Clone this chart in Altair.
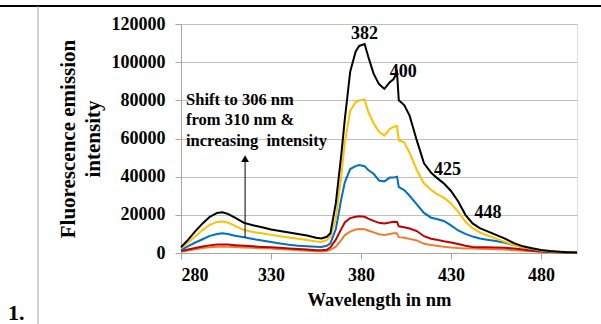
import altair as alt
import pandas as pd

# Emission wavelengths (nm)
wavelength = [280, 284, 288, 292, 296, 300, 303, 306, 310, 315,
              320, 325, 330, 335, 340, 345, 350, 355, 358, 361,
              363, 366, 369, 371, 374, 377, 379, 382, 384, 387,
              390, 393, 396, 398, 400, 401, 404, 407, 411, 415,
              419, 422, 426, 430, 434, 438, 442, 446, 450, 455,
              460, 465, 470, 475, 480, 485, 490, 495, 500]

# Fluorescence emission intensity of the five spectra
s_black = [3000, 7000, 11500, 15500, 19000, 21000, 21300, 20500, 18500, 15800,
           14500, 13500, 12300, 11500, 10700, 10000, 9200, 8000, 7600, 8500,
           10300, 26000, 51000, 70000, 95000, 105500, 108500, 109500, 103000, 94000,
           88500, 86000, 89500, 91000, 94500, 80000, 77500, 72000, 59000, 47000,
           42000, 39500, 36500, 32500, 27000, 20000, 15500, 13000, 11500, 9500,
           7500, 5200, 3500, 2500, 1600, 1000, 700, 400, 200]
s_yellow = [2500, 5500, 8800, 12000, 14800, 16300, 16500, 16000, 14200, 12000,
            11000, 10300, 9500, 8800, 8100, 7500, 6800, 6000, 5800, 6800,
            8500, 18000, 40000, 58000, 74500, 79000, 80000, 80500, 74000, 68000,
            63500, 61500, 65000, 66000, 66500, 59000, 58000, 52500, 43500, 36500,
            33000, 31000, 29000, 26000, 21500, 16500, 13000, 10800, 9300, 7500,
            5800, 4200, 3000, 2200, 1300, 900, 600, 400, 200]
s_blue = [1500, 3600, 5500, 7200, 9000, 10000, 10300, 10000, 9000, 8200,
          7300, 6500, 5800, 5000, 4300, 3800, 3500, 3300, 3200, 3800,
          5100, 12500, 28000, 37000, 44000, 45500, 46100, 45500, 43500, 41500,
          38000, 37500, 39500, 39500, 40000, 34500, 33000, 30000, 25500, 21000,
          18500, 17800, 16800, 14500, 11800, 10000, 8600, 7600, 7000, 6300,
          5300, 4200, 3000, 2000, 1200, 800, 500, 300, 200]
s_red = [1000, 1800, 2600, 3400, 4000, 4400, 4500, 4400, 4100, 3800,
         3500, 3200, 3000, 2700, 2400, 2100, 1800, 1500, 1400, 1700,
         3000, 7000, 12500, 16000, 18300, 19000, 19200, 19000, 18000, 16800,
         15800, 15500, 16000, 16400, 16300, 14000, 13500, 12800, 11500, 8800,
         7500, 7000, 6200, 5500, 4700, 3800, 3200, 3000, 3000, 2900,
         2700, 2400, 1800, 1200, 800, 500, 400, 300, 150]
s_orange = [700, 1300, 2000, 2600, 3000, 3300, 3400, 3300, 3100, 2900,
            2700, 2500, 2300, 2000, 1800, 1500, 1200, 900, 800, 1000,
            1600, 3300, 6800, 9400, 11200, 12300, 12600, 12400, 11800, 10800,
            9800, 9400, 10000, 10300, 10300, 8300, 8000, 7400, 6600, 4800,
            4200, 3800, 3300, 2900, 2600, 2400, 2300, 2200, 2100, 2000,
            1800, 1500, 1200, 900, 600, 400, 300, 200, 100]

series_names = ["orange", "red", "blue", "yellow", "black"]
series_values = [s_orange, s_red, s_blue, s_yellow, s_black]
series_colors = ["#ED7D31", "#C00000", "#0070C0", "#FFC000", "#000000"]

# Peak labels
peak_labels = ["382", "400", "425", "448"]
peak_x = [382, 403.5, 428, 450.5]
peak_y = [114800, 95000, 43300, 21000]

# Note text and the arrow pointing up
note_lines = ["Shift to 306 nm", "from 310 nm &", "increasing\u00a0 intensity"]
note_x = [282.8, 282.8, 282.8]
note_y = [80100, 69500, 58800]
arrow_x = 315.6
arrow_y_from = 8000
arrow_y_to = 49500

x_ticks = [280, 330, 380, 430, 480]
y_ticks = [0, 20000, 40000, 60000, 80000, 100000, 120000]

FONT = "Liberation Serif"

rows = []
for order, (name, vals) in enumerate(zip(series_names, series_values)):
    for w, v in zip(wavelength, vals):
        rows.append({"series": name, "order": order, "wl": w, "intensity": v})
df = pd.DataFrame(rows)

x_scale = alt.Scale(domain=[280, 500], nice=False, zero=False)
y_scale = alt.Scale(domain=[0, 120000], nice=False)

x_axis = alt.Axis(title="Wavelength in nm", values=x_ticks, grid=False,
                  labelOverlap=False,
                  labelFont=FONT, labelFontSize=18, labelFontWeight="bold",
                  labelColor="black", titleFont=FONT, titleFontSize=18.5,
                  titleFontWeight="bold", titleColor="black",
                  tickSize=6, tickColor="#a6a6a6", domainColor="#a6a6a6",
                  labelPadding=7, titlePadding=6)
y_axis = alt.Axis(title=["Fluorescence emission", "intensity"],
                  values=y_ticks, format="d", grid=True, labelOverlap=False,
                  gridColor="#bfbfbf", labelFont=FONT, labelFontSize=18,
                  labelFontWeight="bold", labelColor="black",
                  titleFont=FONT, titleFontSize=21, titleFontWeight="bold",
                  titleColor="black", titleLineHeight=25,
                  tickSize=6, tickColor="#a6a6a6", domainColor="#a6a6a6",
                  labelPadding=10, titlePadding=8)


def xy(xf, yf):
    return dict(x=alt.X(xf, scale=x_scale, axis=x_axis),
                y=alt.Y(yf, scale=y_scale, axis=y_axis))


lines = alt.Chart(df).mark_line(strokeWidth=2).encode(
    **xy("wl:Q", "intensity:Q"),
    color=alt.Color("series:N", scale=alt.Scale(domain=series_names, range=series_colors),
                    legend=None),
    order=alt.Order("order:Q"),
    detail="series:N",
)

peaks_df = pd.DataFrame({"label": peak_labels, "wl": peak_x, "intensity": peak_y})
peaks = alt.Chart(peaks_df).mark_text(
    font=FONT, fontSize=18, fontWeight="bold", color="black"
).encode(**xy("wl:Q", "intensity:Q"), text="label:N")

note_df = pd.DataFrame({"label": note_lines, "wl": note_x, "intensity": note_y})
note = alt.Chart(note_df).mark_text(
    font=FONT, fontSize=16.5, fontWeight="bold", color="black", align="left"
).encode(**xy("wl:Q", "intensity:Q"), text="label:N")

arrow_df = pd.DataFrame({"wl": [arrow_x], "intensity": [arrow_y_from],
                         "top": [arrow_y_to]})
arrow_shaft = alt.Chart(arrow_df).mark_rule(color="black", strokeWidth=1).encode(
    **xy("wl:Q", "intensity:Q"), y2="top:Q")
arrow_head = alt.Chart(arrow_df).mark_point(
    shape="triangle-up", filled=True, color="black", size=60, opacity=1
).encode(**xy("wl:Q", "top:Q"))

# Page furniture around the plot: top rule, left separator and the panel number
top_rule = alt.Chart(arrow_df).mark_rule(color="black", strokeWidth=2).encode(
    x=alt.value(-181), x2=alt.value(420), y=alt.value(-18))
left_rule = alt.Chart(arrow_df).mark_rule(color="#a6a6a6", strokeWidth=1).encode(
    x=alt.value(-143), y=alt.value(-18), y2=alt.value(300))
panel_no = alt.Chart(arrow_df).mark_text(
    text="1.", font=FONT, fontSize=22, fontWeight="bold", color="black",
    align="left", baseline="alphabetic"
).encode(x=alt.value(-173), y=alt.value(296))

chart = alt.layer(lines, peaks, note, arrow_shaft, arrow_head,
                  top_rule, left_rule, panel_no).properties(
    width=396, height=229,
    autosize=alt.AutoSizeParams(type="none"),
    padding={"left": 181, "top": 24, "right": 24, "bottom": 71},
).configure_view(stroke=None).configure(background="white")

chart.save("out.html", embed_options={"renderer": "svg", "actions": False})
